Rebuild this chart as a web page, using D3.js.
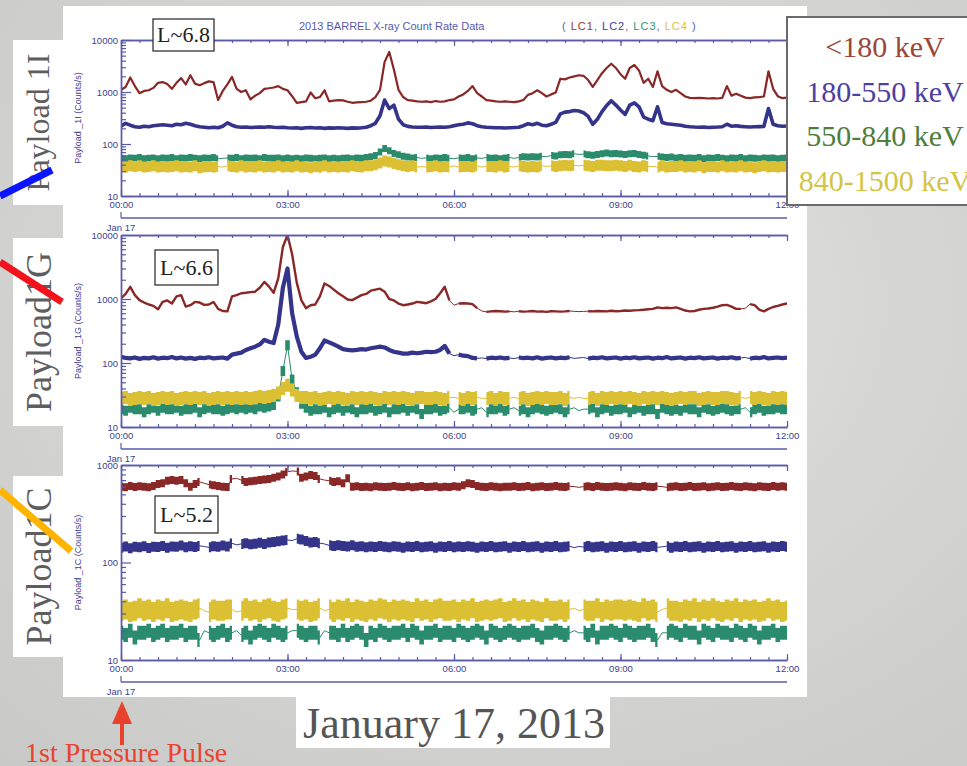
<!DOCTYPE html>
<html><head><meta charset="utf-8">
<script src="https://cdn.jsdelivr.net/npm/d3@7"></script>
<style>
html,body{margin:0;padding:0;background:#d4d4d2;}
body{width:967px;height:766px;overflow:hidden;}
</style></head><body>
<svg id="chart" width="967" height="766"></svg>
<script>
// ---------- data ----------
// Count rates (counts/s) sampled every 5 minutes from 00:00 to 12:00 UT, Jan 17 2013
const stepMinutes = 5;
const timeTickLabels = ["00:00", "03:00", "06:00", "09:00", "12:00"];
const payloadNames = ["1I", "1G", "1C"];
const shellLabels = ["L~6.8", "L~6.6", "L~5.2"];
const channelNames = ["LC1", "LC2", "LC3", "LC4"];
const energyBands = ["<180 keV", "180-550 keV", "550-840 keV", "840-1500 keV"];
const yDomains = [[10, 10000], [10, 10000], [10, 1000]];

// Payload 1I
const p1LC1 = [
  1100,1250,1900,1300,950,1050,1080,1200,1500,1550,1420,1150,
  1500,1850,1400,2100,1450,1350,1480,1600,1550,700,1050,1400,
  1950,1150,1000,1080,720,850,950,1150,1180,1220,1300,1150,
  1080,830,620,640,660,980,760,800,1080,660,680,700,
  690,650,620,630,640,650,680,800,1100,3800,5900,2700,
  1100,800,700,680,660,650,660,640,670,650,660,700,
  720,820,900,1050,1300,950,820,700,680,660,650,660,
  650,640,660,700,880,950,1080,950,820,900,980,1800,
  1750,1900,2000,2100,2050,1700,1250,1700,2300,2900,3500,2900,
  2200,1800,2900,3300,2600,1500,1800,1250,2500,1300,1100,1000,
  1100,950,820,770,760,770,760,750,760,750,770,1300,
  850,930,850,780,760,790,800,820,2500,1150,830,760,
  780];
const p1LC2 = [
  220,250,230,215,210,220,215,225,230,235,230,225,
  240,235,250,240,225,215,210,205,210,205,220,255,
  230,215,210,212,208,210,212,210,215,210,208,210,
  205,203,205,200,205,207,203,205,200,204,202,205,
  203,200,204,202,205,210,225,250,350,700,480,560,
  300,235,218,212,210,210,212,208,210,212,210,215,
  225,235,240,255,245,225,215,210,208,205,205,203,
  205,207,210,225,245,235,250,230,225,240,260,380,
  410,420,440,430,400,340,240,300,420,550,680,560,
  450,370,560,620,520,330,300,280,520,260,245,240,
  235,230,220,215,212,210,212,208,210,212,215,240,
  220,225,218,215,212,214,216,218,480,240,225,220,
  222];
const p1LC3 = [
  53,52,54,53,55,52,53,54,52,54,53,55,
  52,54,53,55,53,52,54,53,55,52,53,54,
  53,55,52,54,53,54,52,55,53,53,54,52,
  54,52,53,52,54,53,52,53,54,52,53,52,
  53,54,52,54,53,55,57,60,70,82,74,66,
  62,58,56,54,55,53,54,52,54,53,55,53,
  52,54,53,55,52,54,53,55,53,54,52,54,
  55,53,55,57,56,57,56,58,57,60,59,62,
  63,62,65,63,64,62,61,63,65,67,65,66,
  64,63,65,66,63,61,59,57,58,56,55,56,
  54,55,53,54,53,55,52,54,53,55,53,52,
  54,53,55,52,54,53,52,54,53,54,52,53,
  54];
const p1LC4 = [
  37,36,38,37,38,36,37,38,36,37,36,37,
  38,36,37,36,38,35,36,37,36,37,36,38,
  37,36,38,36,37,36,38,36,37,36,38,36,
  37,36,38,36,37,35,37,36,38,36,37,36,
  37,36,38,37,36,38,38,40,43,47,45,42,
  40,38,37,38,36,37,36,37,38,36,37,36,
  38,36,37,37,36,38,36,37,37,36,38,36,
  37,36,38,37,36,37,36,38,37,38,37,38,
  39,38,39,38,39,38,37,39,39,38,38,39,
  38,37,39,37,36,38,37,37,36,38,36,37,
  37,38,36,37,36,38,35,37,37,36,38,36,
  37,36,38,36,37,35,37,38,36,37,36,37,
  37];

// Payload 1G
const p2LC1 = [
  1020,1200,1550,1150,960,880,820,780,690,900,950,850,
  1100,1150,760,800,900,880,810,820,900,700,650,640,
  1100,1150,1230,1250,1280,1300,1500,1850,1560,1250,2100,6500,
  10000,5000,1800,950,720,800,820,1100,1750,1600,1400,1230,
  1100,980,960,1050,1150,1200,1350,1400,1450,1300,1000,950,
  850,800,820,850,900,880,860,920,1000,1230,1550,950,
  800,850,860,850,830,720,650,630,640,650,645,635,
  640,630,645,635,640,650,635,640,630,645,640,635,
  640,650,640,635,640,645,640,650,645,640,655,645,
  650,660,655,665,670,680,690,700,740,720,730,720,
  740,700,660,640,650,680,700,710,730,760,800,810,
  760,700,700,720,830,800,680,640,700,750,780,820,
  850];
const p2LC2 = [
  125,120,118,122,116,120,118,123,117,121,119,124,
  118,122,117,120,116,121,119,123,118,120,122,117,
  135,140,145,160,170,180,195,230,215,205,400,1500,
  3000,600,260,150,120,125,135,170,225,210,195,180,
  165,160,158,160,165,162,170,175,180,175,160,150,
  145,140,140,145,142,145,150,148,150,160,185,140,
  130,135,130,128,120,118,120,117,121,119,122,118,
  120,117,122,119,121,118,123,117,120,122,118,121,
  119,123,118,120,122,117,121,119,123,118,120,122,
  117,121,119,123,118,120,122,117,121,119,124,118,
  120,122,117,121,119,123,118,120,122,117,121,119,
  123,118,120,122,117,121,119,124,118,120,122,119,
  121];
const p2LC3 = [
  19,18,20,19,19,17,19,20,18,20,19,19,
  20,18,19,19,20,17,19,20,19,19,18,19,
  20,19,20,19,20,19,21,20,21,22,30,75,
  190,55,35,23,20,18,19,19,20,17,19,20,
  18,20,19,17,19,19,20,18,19,20,17,19,
  19,20,18,20,19,16,19,19,20,18,19,20,
  17,19,19,20,18,19,20,17,19,19,20,18,
  19,20,18,19,17,19,20,19,18,19,20,19,
  17,19,20,18,19,19,20,17,19,20,18,19,
  19,20,17,19,20,18,19,19,16,20,19,18,
  19,18,20,19,19,17,20,19,18,19,20,19,
  18,19,19,20,17,19,20,18,19,19,20,19,
  19];
const p2LC4 = [
  28,29,27,28,29,28,29,27,28,29,28,29,
  27,28,29,28,29,28,29,27,28,29,28,29,
  28,29,28,29,28,29,30,29,30,31,34,40,
  45,38,31,29,29,28,29,27,28,29,28,29,
  28,27,29,28,29,28,29,28,27,29,28,29,
  28,29,28,27,29,29,28,28,29,28,27,29,
  29,28,27,29,28,29,28,28,29,27,29,28,
  28,29,28,29,27,28,29,28,29,28,28,29,
  27,29,28,29,28,28,29,27,29,28,29,28,
  29,28,29,28,27,29,28,29,28,29,28,27,
  28,29,28,29,29,27,28,29,28,28,29,29,
  28,27,29,28,29,28,29,28,27,29,28,29,
  28];

// Payload 1C
const p3LC1 = [
  600,590,610,595,605,600,590,610,640,650,690,700,
  690,700,650,600,640,670,650,630,620,610,600,595,
  720,730,700,670,680,690,700,710,720,740,760,800,
  850,870,860,740,760,790,770,720,700,690,670,680,
  650,730,600,605,595,600,590,605,600,595,600,610,
  600,595,605,590,600,610,595,600,605,590,600,595,
  605,600,620,650,640,610,600,595,605,600,590,600,
  600,605,595,600,610,590,600,605,595,600,610,600,
  595,605,600,590,600,605,595,610,600,595,600,605,
  600,590,605,600,595,610,600,595,605,600,590,600,
  605,595,600,610,595,600,605,590,600,605,595,600,
  610,600,595,605,600,590,605,600,595,610,600,605,
  600];
const p3LC2 = [
  142,146,140,145,143,147,141,145,144,148,142,146,
  145,149,143,147,144,148,146,143,147,145,149,146,
  157,152,155,158,154,156,159,155,160,162,165,168,
  170,168,175,172,166,160,162,158,155,150,148,150,
  148,146,150,145,147,143,146,144,148,145,143,147,
  145,142,146,144,148,143,145,147,142,146,144,148,
  143,146,144,147,145,142,146,144,148,143,145,147,
  142,146,144,148,143,145,147,142,146,144,148,143,
  145,147,142,146,144,148,143,145,147,142,146,144,
  148,143,145,147,142,146,144,148,143,145,147,142,
  146,144,148,143,145,147,142,146,144,148,143,145,
  147,142,146,144,148,143,145,147,142,146,144,148,
  145];
const p3LC3 = [
  19,18,20,17,19,19,20,18,19,20,18,19,
  19,20,18,19,19,16,20,19,18,19,20,18,
  19,20,18,19,17,19,20,19,18,20,19,18,
  19,20,20,19,18,19,19,17,20,19,19,18,
  20,18,19,20,19,16,19,18,20,19,18,19,
  19,20,18,20,19,17,19,19,20,18,19,19,
  18,20,19,18,19,20,19,17,20,19,18,19,
  20,19,18,19,19,20,18,17,19,19,20,19,
  18,19,20,19,19,18,20,17,19,19,20,19,
  18,20,19,18,19,19,20,18,16,19,19,20,
  19,18,20,19,19,17,20,19,18,20,19,19,
  18,20,19,18,20,19,17,19,19,20,18,19,
  19];
const p3LC4 = [
  32,33,31,32,34,32,33,31,33,32,34,31,
  32,33,32,31,33,34,32,31,33,32,32,33,
  33,31,32,34,32,33,31,33,34,32,31,33,
  34,33,33,32,33,31,32,34,32,33,31,33,
  32,34,31,33,32,31,33,32,34,33,31,33,
  32,33,32,31,34,32,33,31,33,34,32,32,
  33,31,33,32,34,31,32,33,32,33,34,31,
  32,34,32,33,31,33,32,31,34,32,32,33,
  31,33,34,32,33,32,32,34,31,33,32,33,
  33,32,33,32,31,34,32,33,31,33,34,32,
  32,31,33,32,34,31,33,32,34,32,31,33,
  32,34,31,33,32,33,31,32,34,32,33,31,
  32];

// Telemetry dropouts (sample indices) per payload
const gaps1I = [22, 65, 72, 78, 85, 92, 99, 115];
const gaps1G = [72, 78, 85, 98, 99, 100, 135];
const gaps1C = [18, 25, 37, 44, 98, 99, 117];

// ---------- drawing ----------
const W = 967, H = 766;
const svg = d3.select("#chart");
const defs = svg.append("defs");

const seriesColors = ["#8a2828", "#34348a", "#2a8c6c", "#dcc034"];
const axisColor = "#5a5aaa";
const labelColor = "#3e3e92";
const slideSerif = "'Liberation Serif', 'DejaVu Serif', serif";
const plotSans = "'Liberation Sans', Arial, sans-serif";

// slide background
const bg = defs.append("radialGradient").attr("id", "bg")
  .attr("cx", "55%").attr("cy", "40%").attr("r", "80%");
bg.append("stop").attr("offset", "0%").attr("stop-color", "#e2e2e0");
bg.append("stop").attr("offset", "100%").attr("stop-color", "#c9c9c7");
svg.append("rect").attr("width", W).attr("height", H).attr("fill", "url(#bg)");

// white sheet holding the plots
svg.append("rect").attr("x", 63).attr("y", 6).attr("width", 744).attr("height", 691).attr("fill", "#fff");

// payload name tags on the left
const tags = [
  {name: "Payload 1I", y0: 40, y1: 205, size: 32},
  {name: "Payload1G", y0: 238, y1: 426, size: 36},
  {name: "Payload1C", y0: 476, y1: 657, size: 36}
];
tags.forEach(t => {
  svg.append("rect").attr("x", 13).attr("y", t.y0).attr("width", 50).attr("height", t.y1 - t.y0).attr("fill", "#fff");
  svg.append("text")
    .attr("transform", `translate(${t.size > 32 ? 51 : 49},${(t.y0 + t.y1) / 2}) rotate(-90)`)
    .attr("text-anchor", "middle")
    .attr("font-family", slideSerif).attr("font-size", t.size).attr("fill", "#5e5e5e")
    .text(t.name);
});

// coloured pointers from the orbit figure
const pointers = [
  {x1: 0, y1: 196, x2: 52, y2: 170, c: "#0a14ff"},
  {x1: 0, y1: 262, x2: 62, y2: 302, c: "#f2141c"},
  {x1: 0, y1: 490, x2: 71, y2: 551, c: "#ffb400"}
];
pointers.forEach(p => svg.append("line").attr("x1", p.x1).attr("y1", p.y1).attr("x2", p.x2).attr("y2", p.y2)
  .attr("stroke", p.c).attr("stroke-width", 7));

// title line
svg.append("text").attr("x", 299).attr("y", 30)
  .attr("font-family", plotSans).attr("font-size", 11).attr("fill", axisColor)
  .text("2013 BARREL X-ray Count Rate Data");
const lc = svg.append("text").attr("x", 562).attr("y", 30)
  .attr("font-family", plotSans).attr("font-size", 11).attr("letter-spacing", 1)
  .attr("fill", axisColor).attr("xml:space", "preserve");
lc.append("tspan").text("( ");
channelNames.forEach((c, i) => {
  lc.append("tspan").attr("fill", ["#a03232", "#3c3c9c", "#2a9a70", "#e0c040"][i]).text(c);
  lc.append("tspan").text(i < 3 ? ", " : " )");
});

const xTime = d3.scaleLinear().domain([0, 12]).range([121, 787]);
// kind: "line" = thin trace, "band" = noisy trace drawn as a filled ribbon of given pixel thickness
const panels = [
  {series: [p1LC1, p1LC2, p1LC3, p1LC4], gaps: gaps1I, gapSeries: [2, 3], top: 40, bottom: 196,
   kind: ["line", "line", "band", "band"], widths: [2.2, 3.6, 7, 11], box: {x: 153, y: 19, w: 61, h: 32}},
  {series: [p2LC1, p2LC2, p2LC3, p2LC4], gaps: gaps1G, gapSeries: [0, 1, 2, 3], top: 235, bottom: 427,
   kind: ["line", "line", "band", "band"], widths: [2.4, 4.2, 10, 13], box: {x: 155, y: 250, w: 63, h: 35}},
  {series: [p3LC1, p3LC2, p3LC3, p3LC4], gaps: gaps1C, gapSeries: [0, 1, 2, 3], top: 465, bottom: 660,
   kind: ["band", "band", "band", "band"], widths: [8, 10, 14, 20], box: {x: 155, y: 496, w: 63, h: 37}}
];

function styleAxis(sel) {
  sel.select(".domain").attr("stroke", axisColor).attr("stroke-width", 1.4);
  sel.selectAll(".tick line").attr("stroke", axisColor).attr("stroke-width", 1.2);
  sel.selectAll(".tick text").attr("fill", labelColor).attr("font-family", plotSans).attr("font-size", 9.5);
}

panels.forEach((p, k) => {
  const g = svg.append("g");
  const y = d3.scaleLog().domain(yDomains[k]).range([p.bottom, p.top]);
  defs.append("clipPath").attr("id", "clip" + k).append("rect")
    .attr("x", 121).attr("y", p.top).attr("width", 666).attr("height", p.bottom - p.top);
  const plot = g.append("g").attr("clip-path", `url(#clip${k})`);
  const gapSet = new Set(p.gaps);
  const xAt = (d, i) => xTime(i * stepMinutes / 60);

  p.series.forEach((vals, s) => {
    const useGaps = p.gapSeries.includes(s);
    const ok = (d, i) => !(useGaps && gapSet.has(i));
    const col = seriesColors[s];
    // thin trace bridging dropouts
    plot.append("path").datum(vals)
      .attr("d", d3.line().x(xAt).y(d => y(d)))
      .attr("fill", "none").attr("stroke", col).attr("stroke-width", 1);
    if (p.kind[s] === "band") {
      const half = p.widths[s] / 2;
      plot.append("path").datum(vals)
        .attr("d", d3.area().defined(ok).curve(d3.curveStep).x(xAt)
          .y0(d => y(d) + half).y1(d => y(d) - half))
        .attr("fill", col);
    } else {
      plot.append("path").datum(vals)
        .attr("d", d3.line().defined(ok).x(xAt).y(d => y(d)))
        .attr("fill", "none").attr("stroke", col)
        .attr("stroke-width", p.widths[s]).attr("stroke-linejoin", "round");
    }
  });

  // y axis: decades labelled, minor ticks inside
  const [lo, hi] = yDomains[k];
  const decades = [], minors = [];
  for (let dcd = lo; dcd <= hi; dcd *= 10) {
    decades.push(dcd);
    if (dcd < hi) for (let m = 2; m <= 9; m++) minors.push(dcd * m);
  }
  g.append("g").attr("transform", "translate(121,0)")
    .call(d3.axisLeft(y).tickValues(minors).tickSize(-5).tickSizeOuter(0).tickFormat(""))
    .call(styleAxis);
  g.append("g").attr("transform", "translate(121,0)")
    .call(d3.axisLeft(y).tickValues(decades).tickSize(-10).tickSizeOuter(0).tickPadding(3).tickFormat(d3.format("d")))
    .call(styleAxis);

  // time axes top and bottom: 20-minute minor ticks, 3-hour majors
  const minorT = d3.range(37).map(i => i / 3);
  const majorT = [0, 3, 6, 9, 12];
  g.append("g").attr("transform", `translate(0,${p.bottom})`)
    .call(d3.axisBottom(xTime).tickValues(minorT).tickSize(-3).tickSizeOuter(0).tickFormat(""))
    .call(styleAxis);
  g.append("g").attr("transform", `translate(0,${p.bottom})`)
    .call(d3.axisBottom(xTime).tickValues(majorT).tickSize(-6).tickSizeOuter(0).tickPadding(5)
      .tickFormat((d, i) => timeTickLabels[i]))
    .call(styleAxis);
  g.append("g").attr("transform", `translate(0,${p.top})`)
    .call(d3.axisTop(xTime).tickValues(minorT).tickSize(-3).tickSizeOuter(0).tickFormat(""))
    .call(styleAxis);
  g.append("g").attr("transform", `translate(0,${p.top})`)
    .call(d3.axisTop(xTime).tickValues(majorT).tickSize(-6).tickSizeOuter(0).tickFormat(""))
    .call(styleAxis);

  // date axis under the time labels
  const dy = p.bottom + 22;
  g.append("line").attr("x1", 121).attr("x2", 787).attr("y1", dy).attr("y2", dy)
    .attr("stroke", axisColor).attr("stroke-width", 1.4);
  g.append("line").attr("x1", 121).attr("x2", 121).attr("y1", dy - 6).attr("y2", dy)
    .attr("stroke", axisColor).attr("stroke-width", 1.2);
  g.append("text").attr("x", 121).attr("y", dy + 13).attr("text-anchor", "middle")
    .attr("font-family", plotSans).attr("font-size", 9.5).attr("fill", labelColor).text("Jan 17");

  // y title
  g.append("text")
    .attr("transform", `translate(81,${(p.top + p.bottom) / 2}) rotate(-90)`)
    .attr("text-anchor", "middle").attr("font-family", plotSans).attr("font-size", 9)
    .attr("fill", labelColor).text(`Payload _${payloadNames[k]} (Counts/s)`);

  // L-shell tag
  const b = p.box;
  g.append("rect").attr("x", b.x).attr("y", b.y).attr("width", b.w).attr("height", b.h)
    .attr("fill", "#fff").attr("stroke", "#333").attr("stroke-width", 1.3);
  g.append("text").attr("x", b.x + b.w / 2).attr("y", b.y + b.h / 2 + 7).attr("text-anchor", "middle")
    .attr("font-family", slideSerif).attr("font-size", 22).attr("fill", "#222").text(shellLabels[k]);
});

// energy-band key
svg.append("rect").attr("x", 787).attr("y", 17).attr("width", 200).attr("height", 188)
  .attr("fill", "#fff").attr("stroke", "#6a6a6a").attr("stroke-width", 2);
const keyColors = ["#9b4636", "#4c40a2", "#4e7e3c", "#d2c444"];
energyBands.forEach((t, i) => {
  svg.append("text").attr("x", 885).attr("y", 57 + i * 44.7).attr("text-anchor", "middle")
    .attr("font-family", slideSerif).attr("font-size", 30).attr("fill", keyColors[i]).text(t);
});

// date caption
svg.append("rect").attr("x", 296).attr("y", 697).attr("width", 314).attr("height", 51).attr("fill", "#fff");
svg.append("text").attr("x", 454).attr("y", 738).attr("text-anchor", "middle")
  .attr("font-family", slideSerif).attr("font-size", 44).attr("fill", "#555").text("January 17, 2013");

// pressure pulse marker
svg.append("path")
  .attr("d", "M122,701 L132,724 L124,724 L124,745 L120,745 L120,724 L112,724 Z")
  .attr("fill", "#ea412c");
svg.append("text").attr("x", 25).attr("y", 762)
  .attr("font-family", slideSerif).attr("font-size", 28).attr("fill", "#e8432e").text("1st Pressure Pulse");
</script>
</body></html>
